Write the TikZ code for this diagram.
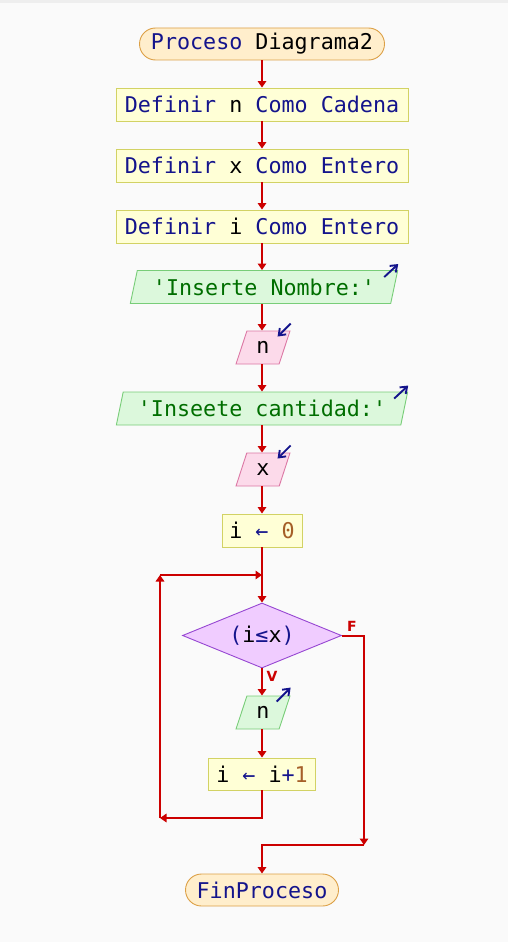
\documentclass[tikz,border=0pt]{standalone}
\usepackage{fontspec}
\setmainfont[Ligatures=TeXOff]{DejaVu Sans Mono}
\newfontfamily\lblfont{DejaVu Sans}
\usetikzlibrary{shapes.geometric,arrows.meta,calc}
\definecolor{bgc}{RGB}{250,250,250}
\definecolor{topc}{RGB}{238,238,238}
\definecolor{flowc}{RGB}{204,0,0}
\definecolor{kwc}{RGB}{20,20,140}
\definecolor{strc}{RGB}{0,110,0}
\definecolor{numc}{RGB}{165,95,40}
\definecolor{termfill}{RGB}{255,238,204}
\definecolor{termdraw}{RGB}{220,160,70}
\definecolor{asgfill}{RGB}{255,255,214}
\definecolor{asgdraw}{RGB}{210,210,100}
\definecolor{outfill}{RGB}{220,248,220}
\definecolor{outdraw}{RGB}{120,205,120}
\definecolor{infill}{RGB}{252,218,234}
\definecolor{indraw}{RGB}{220,120,165}
\definecolor{decfill}{RGB}{240,204,255}
\definecolor{decdraw}{RGB}{150,70,210}
\newcommand\kw[1]{\textcolor{kwc}{#1}}
\newcommand\str[1]{\textcolor{strc}{#1}}
\newcommand\num[1]{\textcolor{numc}{#1}}
\tikzset{
  base/.style={inner sep=0pt, line width=0.9pt, font=\fontsize{21.7}{24}\selectfont},
  term/.style={base, rectangle, rounded corners=16pt, fill=termfill, draw=termdraw, minimum height=32},
  asg/.style={base, rectangle, fill=asgfill, draw=asgdraw, minimum height=33},
  para/.style={base, trapezium, trapezium left angle=70, trapezium right angle=110, trapezium stretches=true, minimum height=33},
  outp/.style={para, fill=outfill, draw=outdraw},
  inp/.style={para, fill=infill, draw=indraw},
  dec/.style={base, diamond, aspect=2.45, fill=decfill, draw=decdraw, minimum width=159, minimum height=65},
  flow/.style={draw=flowc, line width=2pt, -{Triangle[length=6.5pt,width=8.5pt]}},
  ioarrow/.style={draw=kwc, line width=1.9pt, -{Straight Barb[length=6pt,width=9pt]}},
  lbl/.style={text=flowc, font=\lblfont\bfseries\fontsize{14}{16}\selectfont, inner sep=0pt}
}
\begin{document}
\begin{tikzpicture}[x=1pt,y=-1pt]
\fill[bgc] (0,0) rectangle (508,942);
\fill[topc] (0,0) rectangle (508,3);
\useasboundingbox (0,0) rectangle (508,942);

\node[term, minimum width=245] (start) at (262,44) {\kw{Proceso} Diagrama2};
\node[asg, minimum width=292] (b1) at (262,104.5) {\kw{Definir} n \kw{Como} \kw{Cadena}};
\node[asg, minimum width=292] (b2) at (262,165.5) {\kw{Definir} x \kw{Como} \kw{Entero}};
\node[asg, minimum width=292] (b3) at (262,226.5) {\kw{Definir} i \kw{Como} \kw{Entero}};
\node[outp, minimum width=268] (o1) at (264,287) {\str{'Inserte Nombre:'}};
\node[inp, minimum width=54] (i1) at (263,347.5) {n};
\node[outp, minimum width=292] (o2) at (262,408.5) {\str{'Inseete cantidad:'}};
\node[inp, minimum width=54] (i2) at (263,469.5) {x};
\node[asg, minimum width=80] (a0) at (262,530.5) {i \kw{←} \num{0}};
\node[dec] (d) at (262,635.5) {\kw{(}i\kw{≤}x\kw{)}};
\node[outp, minimum width=54] (o3) at (263,712.5) {n};
\node[asg, minimum width=107, minimum height=32] (a1) at (262,774) {i \kw{←} i\kw{+}\num{1}};
\node[term, minimum width=153] (fin) at (262,890) {\kw{FinProceso}};

% io arrows
\draw[ioarrow] ($(o1.top right corner)+(-14,7)$) -- ($(o1.top right corner)+(0,-6)$);
\draw[ioarrow] ($(o2.top right corner)+(-14,7)$) -- ($(o2.top right corner)+(0,-6)$);
\draw[ioarrow] ($(o3.top right corner)+(-14,6)$) -- ($(o3.top right corner)+(0,-8)$);
\draw[ioarrow] ($(i1.top right corner)+(0,-7)$) -- ($(i1.top right corner)+(-13,6)$);
\draw[ioarrow] ($(i2.top right corner)+(0,-7)$) -- ($(i2.top right corner)+(-13,6)$);

% main flow (vertical, along x = 262)
\draw[flow] (start.south) -- (start.south |- b1.north);
\draw[flow] (b1.south) -- (b1.south |- b2.north);
\draw[flow] (b2.south) -- (b2.south |- b3.north);
\draw[flow] (b3.south) -- (b3.south |- o1.north);
\draw[flow] (b3.south |- o1.south) -- (b3.south |- i1.north);
\draw[flow] (b3.south |- i1.south) -- (b3.south |- o2.north);
\draw[flow] (o2.south) -- (o2.south |- i2.north);
\draw[flow] (a0.north |- i2.south) -- (a0.north);
\draw[flow] (a0.south) -- (d.north);
\draw[flow] (d.south) -- (d.south |- o3.north);
\draw[flow] (a1.north |- o3.south) -- (a1.north);

% loop back
\coordinate (lb) at (262,818);
\coordinate (ll) at (160,818);
\coordinate (lt) at (160,575);
\coordinate (lj) at (262,575);
\draw[flow] (a1.south) -- (lb) -- (ll);
\draw[flow] (ll) -- (lt);
\draw[flow] (lt) -- (lj);

% false branch
\coordinate (fr) at (364,635.5);
\coordinate (fb) at (364,845);
\coordinate (fm) at (262,845);
\draw[flow] (d.east) -- (fr) -- (fb);
\draw[flow] (fb) -- (fm) -- (fin.north);

\node[lbl] (lf) at (352,626) {F};
\node[lbl] (lv) at (272,676) {V};
\end{tikzpicture}
\end{document}
